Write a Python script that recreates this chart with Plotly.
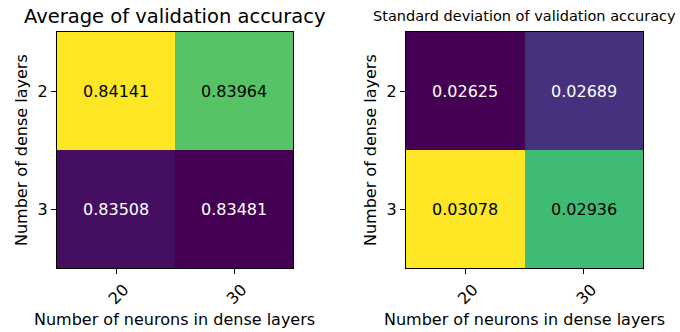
import plotly.graph_objects as go

neurons = ["20", "30"]
layers = ["2", "3"]
avg_acc = [[0.84141, 0.83964],
           [0.83508, 0.83481]]
std_acc = [[0.02625, 0.02689],
           [0.03078, 0.02936]]

W, H = 680, 332
FONT = "DejaVu Sans"

def px(x):
    return x / W

def py(y):
    return 1 - y / H

fig = go.Figure()

panels = [
    dict(z=avg_acc, xa="x", ya="y", dom=(57, 293), title="Average of validation accuracy", tsize=19.5),
    dict(z=std_acc, xa="x2", ya="y2", dom=(406, 643), title="Standard deviation of validation accuracy", tsize=14.5),
]

top, bottom = 32, 268
annotations = []
for i, p in enumerate(panels):
    z = p["z"]
    fig.add_trace(go.Heatmap(z=z, x=neurons, y=layers, colorscale="Viridis",
                             showscale=False, xaxis=p["xa"], yaxis=p["ya"], hoverinfo="skip"))
    zmin = min(min(r) for r in z)
    zmax = max(max(r) for r in z)
    for r, yl in enumerate(layers):
        for c, xl in enumerate(neurons):
            v = z[r][c]
            norm = (v - zmin) / (zmax - zmin)
            annotations.append(dict(x=c, y=r, xref=p["xa"], yref=p["ya"],
                                    text=f"{v:.5f}", showarrow=False,
                                    font=dict(family=FONT, size=16,
                                              color="black" if norm > 0.5 else "white")))
    x0, x1 = p["dom"]
    cx = (x0 + x1) / 2
    axsuffix = "" if i == 0 else "2"
    fig.update_layout(**{
        "xaxis" + axsuffix: dict(domain=[px(x0), px(x1)], anchor="y" + axsuffix, type="category",
                                 tickangle=-45, ticks="outside", ticklen=5, tickwidth=1, tickcolor="black",
                                 showline=True, linecolor="black", linewidth=1, mirror=True,
                                 tickfont=dict(family=FONT, size=16, color="black"),
                                 showgrid=False, zeroline=False, ticklabelshift=8, automargin=False,
                                 range=[-0.5, 1.5]),
        "yaxis" + axsuffix: dict(domain=[py(bottom), py(top)], anchor="x" + axsuffix, type="category",
                                 range=[1.5, -0.5], ticks="outside", ticklen=5, tickwidth=1, tickcolor="black",
                                 showline=True, linecolor="black", linewidth=1, mirror=True,
                                 tickfont=dict(family=FONT, size=16, color="black"),
                                 showgrid=False, zeroline=False, automargin=False),
    })
    annotations.append(dict(x=px(cx), y=py(16), xref="paper", yref="paper", text=p["title"],
                            showarrow=False, xanchor="center", yanchor="middle",
                            font=dict(family=FONT, size=p["tsize"], color="black")))
    annotations.append(dict(x=px(cx), y=py(319), xref="paper", yref="paper",
                            text="Number of neurons in dense layers", showarrow=False,
                            xanchor="center", yanchor="middle",
                            font=dict(family=FONT, size=16, color="black")))
    annotations.append(dict(x=px(x0 - 36), y=py(150), xref="paper", yref="paper",
                            text="Number of dense layers", showarrow=False, textangle=-90,
                            xanchor="center", yanchor="middle",
                            font=dict(family=FONT, size=16, color="black")))

fig.update_layout(width=W, height=H, margin=dict(l=0, r=0, t=0, b=0),
                  paper_bgcolor="white", plot_bgcolor="white",
                  annotations=annotations, showlegend=False)

fig.write_html("out.html", config={"displayModeBar": False, "staticPlot": True},
               post_script="document.body.style.margin='0';document.body.style.overflow='hidden';")
